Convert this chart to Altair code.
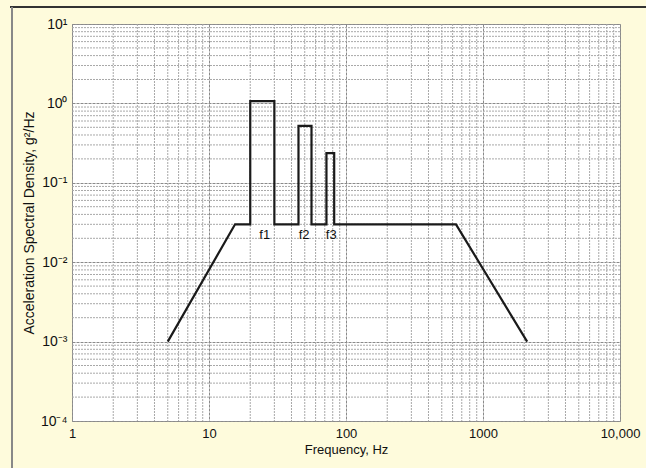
import altair as alt
import pandas as pd

# Profile breakpoints (Hz, g^2/Hz)
freq = [5, 15.5, 20, 20, 30, 30, 45, 45, 56, 56, 72, 72, 82, 82, 635, 2100]
psd = [0.001, 0.03, 0.03, 1.07, 1.07, 0.03, 0.03, 0.52, 0.52, 0.03, 0.03, 0.237, 0.237, 0.03, 0.03, 0.001]

label_text = ["f1", "f2", "f3"]
label_freq = [25.5, 49.5, 78]
label_psd = [0.022, 0.022, 0.022]

x_major = [1, 10, 100, 1000, 10000]
x_labels = ["1", "10", "100", "1000", "10,000"]
y_major = [10, 1, 0.1, 0.01, 0.001, 0.0001]
y_labels = ["10¹", "10⁰", "10⁻¹", "10⁻²", "10⁻³", "10⁻⁴"]

x_minor = [m * d for d in [1, 10, 100, 1000] for m in range(2, 10)]
y_minor = [m * d for d in [0.0001, 0.001, 0.01, 0.1, 1] for m in range(2, 10)]

FONT = "Liberation Sans"

profile = pd.DataFrame({"f": freq, "p": psd, "o": list(range(len(freq)))})
labels = pd.DataFrame({"f": label_freq, "p": label_psd, "t": label_text})

xscale = alt.Scale(type="log", domain=[1, 10000], nice=False)
yscale = alt.Scale(type="log", domain=[0.0001, 10], nice=False)

xlabel_expr = "{" + ",".join(f"'{v}':'{l}'" for v, l in zip(x_major, x_labels)) + "}[''+datum.value]"
ylabel_expr = "{" + ",".join(f"'{v}':'{l}'" for v, l in zip(["10", "1", "0.1", "0.01", "0.001", "0.0001"], y_labels)) + "}[''+datum.value]"

gridc = "#a8a8a8"

xminor_layer = alt.Chart(pd.DataFrame({"f": x_minor})).mark_rule(
    color=gridc, strokeWidth=1, strokeDash=[2, 1]
).encode(x=alt.X("f:Q", scale=xscale))

yminor_layer = alt.Chart(pd.DataFrame({"p": y_minor})).mark_rule(
    color=gridc, strokeWidth=1, strokeDash=[2, 1]
).encode(y=alt.Y("p:Q", scale=yscale))

line = alt.Chart(profile).mark_line(color="#1a1a1a", strokeWidth=2.2).encode(
    x=alt.X(
        "f:Q",
        scale=xscale,
        axis=alt.Axis(
            values=x_major,
            labelExpr=xlabel_expr,
            title="Frequency, Hz",
            grid=True,
            gridColor="#8a8a8a",
            gridDash=[3, 1],
            ticks=False,
            domain=False,
            labelFont=FONT,
            labelFontSize=13,
            labelColor="#111",
            labelPadding=6,
            titleFont=FONT,
            titleFontSize=13,
            titleFontWeight="normal",
            titleColor="#111",
            titlePadding=3,
            labelFlush=False,
        ),
    ),
    y=alt.Y(
        "p:Q",
        scale=yscale,
        axis=alt.Axis(
            values=y_major,
            labelExpr=ylabel_expr,
            title="Acceleration Spectral Density, g²/Hz",
            grid=True,
            gridColor="#8a8a8a",
            gridDash=[3, 1],
            ticks=False,
            domain=False,
            labelFont=FONT,
            labelFontSize=14,
            labelColor="#111",
            labelPadding=5,
            titleFont=FONT,
            titleFontSize=14,
            titleFontWeight="normal",
            titleColor="#111",
            titlePadding=4,
            labelFlush=False,
        ),
    ),
    order="o:Q",
)

text = alt.Chart(labels).mark_text(
    font=FONT, fontSize=13, color="#111", baseline="middle", align="center"
).encode(x=alt.X("f:Q", scale=xscale), y=alt.Y("p:Q", scale=yscale), text="t:N")

# Decorative frame (top and left edges of the figure border)
top_border = alt.Chart(pd.DataFrame({"a": [0]})).mark_rule(color="#333", strokeWidth=2).encode(
    x=alt.value(-62), x2=alt.value(574), y=alt.value(-17)
)
left_border = alt.Chart(pd.DataFrame({"a": [0]})).mark_rule(color="#888", strokeWidth=2).encode(
    x=alt.value(-60), y=alt.value(-17), y2=alt.value(445)
)

chart = (
    alt.layer(xminor_layer, yminor_layer, line, text, top_border, left_border)
    .properties(
        width=548,
        height=397,
        background="#fefbdc",
        padding={"left": 72, "top": 24, "right": 26, "bottom": 47},
        autosize=alt.AutoSizeParams(type="none"),
    )
    .configure_view(fill="white", stroke="#999", strokeWidth=1)
)

chart.save("out.html", embed_options={"renderer": "svg", "actions": False})
